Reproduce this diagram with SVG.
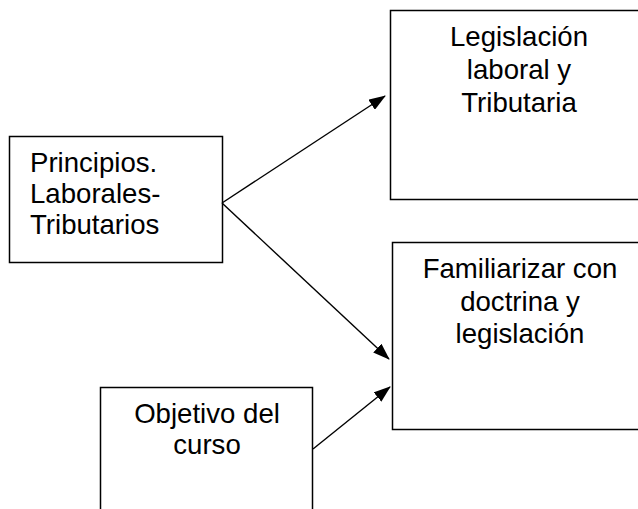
<svg xmlns="http://www.w3.org/2000/svg" width="638" height="509" viewBox="0 0 638 509">
<style>
.box{fill:#fff;stroke:#000;stroke-width:1.5}
.t{font-family:"Liberation Sans",Arial,sans-serif;font-size:27.6px;fill:#000}
.c{text-anchor:middle}
.edge{stroke:#000;stroke-width:1.4;fill:none}
</style>
<defs>
<marker id="ah" markerWidth="17" markerHeight="12" refX="16" refY="6" orient="auto" markerUnits="userSpaceOnUse">
<path d="M0,0 L17,6 L0,12 Z" fill="#000"/>
</marker>
</defs>
<rect width="638" height="509" fill="#fff"/>
<g id="n-principios">
<rect class="box" x="9.5" y="136.5" width="213" height="126"/>
<text class="t" x="30" y="172">Principios.</text>
<text class="t" x="30" y="203">Laborales-</text>
<text class="t" x="30" y="234">Tributarios</text>
</g>
<g id="n-legislacion">
<rect class="box" x="390.5" y="10.5" width="258" height="189"/>
<text class="t c" x="519" y="46">Legislación</text>
<text class="t c" x="519" y="79">laboral y</text>
<text class="t c" x="519" y="112">Tributaria</text>
</g>
<g id="n-familiarizar">
<rect class="box" x="392.5" y="242.5" width="256" height="187"/>
<text class="t c" x="520" y="278">Familiarizar con</text>
<text class="t c" x="520" y="311">doctrina y</text>
<text class="t c" x="520" y="343">legislación</text>
</g>
<g id="n-objetivo">
<rect class="box" x="100.5" y="387.5" width="212" height="130"/>
<text class="t c" x="207" y="423">Objetivo del</text>
<text class="t c" x="207" y="454">curso</text>
</g>
<g id="connectors">
<line class="edge" x1="222" y1="203" x2="385" y2="96" marker-end="url(#ah)"/>
<line class="edge" x1="222" y1="203" x2="389" y2="359" marker-end="url(#ah)"/>
<line class="edge" x1="313" y1="449" x2="390" y2="387" marker-end="url(#ah)"/>
</g>
</svg>
